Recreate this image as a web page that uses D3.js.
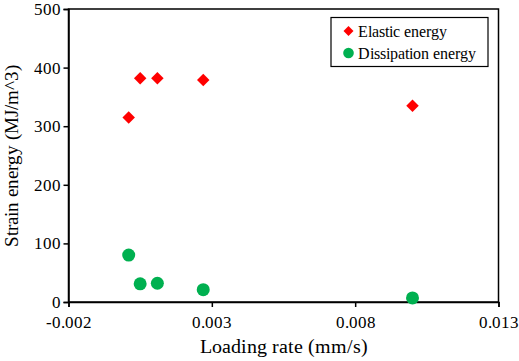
<!DOCTYPE html>
<html>
<head>
<meta charset="utf-8">
<script src="https://cdn.jsdelivr.net/npm/d3@7/dist/d3.min.js"></script>
<style>
@font-face { font-family: 'ChartSerif'; src: local('Liberation Serif'), local('LiberationSerif'), local('LiberationSerif-Regular'), local('Times New Roman'); }
svg text { font-family: 'ChartSerif', 'Liberation Serif', 'Times New Roman', serif !important; }
</style>
</head>
<body style="margin:0;padding:0;background:#fff;">
<svg id="chart" width="519" height="361"></svg>
<script>
const loadingRate = [0.0001, 0.0005, 0.0011, 0.0027, 0.0100];
const elasticEnergy = [315, 382, 382, 379, 335];
const dissipationEnergy = [80, 31, 32, 21, 7];
const xTicks = [-0.002, 0.003, 0.008, 0.013];
const xTickLabels = ["-0.002", "0.003", "0.008", "0.013"];
const yTicks = [0, 100, 200, 300, 400, 500];
const seriesNames = ["Elastic energy", "Dissipation energy"];
const seriesColors = ["#ff0000", "#00b050"];

const svg = d3.select("#chart");
const m = {left: 68.5, right: 498.5, top: 9, bottom: 302};
const x = d3.scaleLinear().domain([-0.002, 0.013]).range([m.left, m.right]);
const y = d3.scaleLinear().domain([0, 500]).range([m.bottom, m.top]);

svg.append("rect").attr("x", m.left).attr("y", m.top)
  .attr("width", m.right - m.left).attr("height", m.bottom - m.top)
  .attr("fill", "none").attr("stroke", "#000").attr("stroke-width", 1.5);

const xAxis = svg.append("g").attr("transform", `translate(0,${m.bottom})`)
  .call(d3.axisBottom(x).tickValues(xTicks).tickFormat((d, i) => xTickLabels[i]).tickSize(5).tickPadding(9));
const yAxis = svg.append("g").attr("transform", `translate(${m.left},0)`)
  .call(d3.axisLeft(y).tickValues(yTicks).tickFormat(d3.format("d")).tickSize(5).tickPadding(3));
[xAxis, yAxis].forEach(g => {
  g.attr("font-family", null).attr("font-size", 17);
  g.select(".domain").attr("stroke", "#000").attr("stroke-width", 1.5);
  g.selectAll(".tick line").attr("stroke", "#000").attr("stroke-width", 1.5);
  g.selectAll(".tick text").attr("fill", "#000");
});

svg.append("text").attr("x", (m.left + m.right) / 2).attr("y", 353)
  .attr("text-anchor", "middle").attr("font-size", 20).text("Loading rate (mm/s)");
svg.append("text").attr("transform", `translate(18,${(m.top + m.bottom) / 2}) rotate(-90)`)
  .attr("text-anchor", "middle").attr("font-size", 19).text("Strain energy (MJ/m^3)");

const diamond = d3.symbol().type(d3.symbolSquare).size(78);
svg.append("g").selectAll("path").data(loadingRate).join("path")
  .attr("d", diamond)
  .attr("transform", (d, i) => `translate(${x(d)},${y(elasticEnergy[i])}) rotate(45)`)
  .attr("fill", seriesColors[0]);
svg.append("g").selectAll("circle").data(loadingRate).join("circle")
  .attr("cx", d => x(d)).attr("cy", (d, i) => y(dissipationEnergy[i]))
  .attr("r", 6.5).attr("fill", seriesColors[1]);

const lg = svg.append("g");
lg.append("rect").attr("x", 331).attr("y", 17.5).attr("width", 157).attr("height", 49)
  .attr("fill", "#fff").attr("stroke", "#000").attr("stroke-width", 1.2);
lg.append("path").attr("d", d3.symbol().type(d3.symbolSquare).size(50))
  .attr("transform", "translate(348.5,31) rotate(45)").attr("fill", seriesColors[0]);
lg.append("circle").attr("cx", 348.5).attr("cy", 53).attr("r", 5.3).attr("fill", seriesColors[1]);
lg.append("text").attr("x", 358).attr("y", 36.5).attr("font-size", 15.5).text(seriesNames[0]);
lg.append("text").attr("x", 358).attr("y", 58.5).attr("font-size", 15.5).text(seriesNames[1]);
</script>
</body>
</html>
